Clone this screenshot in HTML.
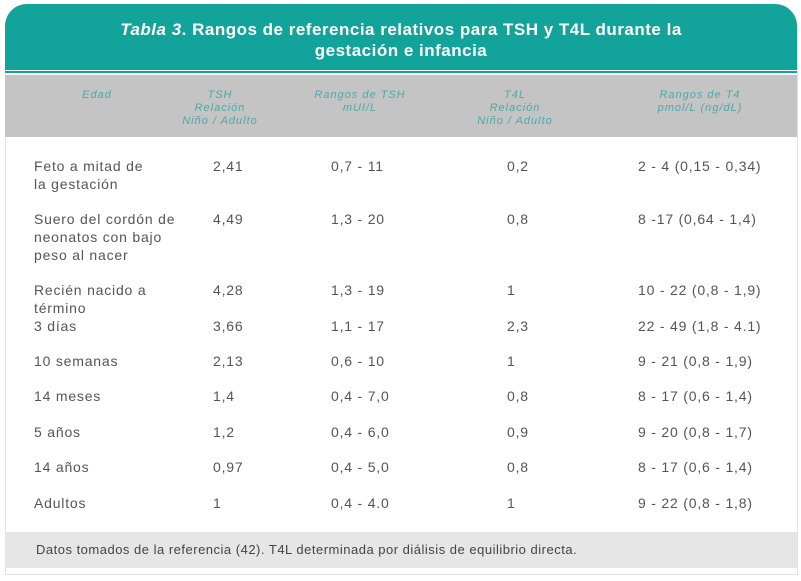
<!DOCTYPE html>
<html><head><meta charset="utf-8"><style>
body{margin:0;width:801px;height:581px;background:#fff;position:relative;overflow:hidden;font-family:"Liberation Sans",sans-serif}
.card{position:absolute;left:5px;top:4px;width:791px;height:570px;border:1px solid #e2e2e2;border-top:none;border-radius:22px 22px 0 0;background:#fff}
.top{position:absolute;left:5px;top:4px;width:792px;height:66px;background:#12a39b;border-radius:22px 22px 0 0;color:#fff;font-weight:bold;font-size:17px;letter-spacing:0.5px;text-align:center;line-height:21px;padding-top:15px;box-sizing:border-box}
.line{position:absolute;left:5px;top:71px;width:792px;height:2px;background:#12a39b}
.hd{position:absolute;left:5px;top:75px;width:792px;height:62px;background:#c4c4c4}
.h{position:absolute;font-style:italic;font-size:11px;letter-spacing:1px;color:#4aa9a9;text-align:center;line-height:13px}
.t{position:absolute;font-size:14px;letter-spacing:0.8px;color:#555;line-height:18px;white-space:nowrap}
.ft{position:absolute;left:5px;top:532px;width:792px;height:36px;background:#e6e6e6;font-size:13px;letter-spacing:0.5px;color:#444;line-height:36px;padding-left:31px;box-sizing:border-box;white-space:nowrap}
</style></head><body>
<div class="card"></div>
<div class="top"><i>Tabla 3</i>. Rangos de referencia relativos para TSH y T4L durante la<br>gestación e infancia</div>
<div class="line"></div>
<div class="hd"></div>
<div class="h" style="left:57px;top:89px;width:80px">Edad</div>
<div class="h" style="left:170px;top:89px;width:100px">TSH<br>Relación<br>Niño / Adulto</div>
<div class="h" style="left:295px;top:89px;width:130px">Rangos de TSH<br>mUI/L</div>
<div class="h" style="left:465px;top:89px;width:100px">T4L<br>Relación<br>Niño / Adulto</div>
<div class="h" style="left:630px;top:89px;width:140px">Rangos de T4<br>pmol/L (ng/dL)</div>

<div class="t" style="left:34px;top:157px">Feto a mitad de<br>la gestación</div>
<div class="t" style="left:213px;top:157px">2,41</div><div class="t" style="left:331px;top:157px">0,7 - 11</div><div class="t" style="left:507px;top:157px">0,2</div><div class="t" style="left:638px;top:157px">2 - 4 (0,15 - 0,34)</div>

<div class="t" style="left:34px;top:210px">Suero del cordón de<br>neonatos con bajo<br>peso al nacer</div>
<div class="t" style="left:213px;top:210px">4,49</div><div class="t" style="left:331px;top:210px">1,3 - 20</div><div class="t" style="left:507px;top:210px">0,8</div><div class="t" style="left:638px;top:210px">8 -17 (0,64 - 1,4)</div>

<div class="t" style="left:34px;top:281px">Recién nacido a<br>término</div>
<div class="t" style="left:213px;top:281px">4,28</div><div class="t" style="left:331px;top:281px">1,3 - 19</div><div class="t" style="left:507px;top:281px">1</div><div class="t" style="left:638px;top:281px">10 - 22 (0,8 - 1,9)</div>

<div class="t" style="left:34px;top:317px">3 días</div>
<div class="t" style="left:213px;top:317px">3,66</div><div class="t" style="left:331px;top:317px">1,1 - 17</div><div class="t" style="left:507px;top:317px">2,3</div><div class="t" style="left:638px;top:317px">22 - 49 (1,8 - 4.1)</div>

<div class="t" style="left:34px;top:352px">10 semanas</div>
<div class="t" style="left:213px;top:352px">2,13</div><div class="t" style="left:331px;top:352px">0,6 - 10</div><div class="t" style="left:507px;top:352px">1</div><div class="t" style="left:638px;top:352px">9 - 21 (0,8 - 1,9)</div>

<div class="t" style="left:34px;top:387px">14 meses</div>
<div class="t" style="left:213px;top:387px">1,4</div><div class="t" style="left:331px;top:387px">0,4 - 7,0</div><div class="t" style="left:507px;top:387px">0,8</div><div class="t" style="left:638px;top:387px">8 - 17 (0,6 - 1,4)</div>

<div class="t" style="left:34px;top:423px">5 años</div>
<div class="t" style="left:213px;top:423px">1,2</div><div class="t" style="left:331px;top:423px">0,4 - 6,0</div><div class="t" style="left:507px;top:423px">0,9</div><div class="t" style="left:638px;top:423px">9 - 20 (0,8 - 1,7)</div>

<div class="t" style="left:34px;top:458px">14 años</div>
<div class="t" style="left:213px;top:458px">0,97</div><div class="t" style="left:331px;top:458px">0,4 - 5,0</div><div class="t" style="left:507px;top:458px">0,8</div><div class="t" style="left:638px;top:458px">8 - 17 (0,6 - 1,4)</div>

<div class="t" style="left:34px;top:494px">Adultos</div>
<div class="t" style="left:213px;top:494px">1</div><div class="t" style="left:331px;top:494px">0,4 - 4.0</div><div class="t" style="left:507px;top:494px">1</div><div class="t" style="left:638px;top:494px">9 - 22 (0,8 - 1,8)</div>

<div class="ft">Datos tomados de la referencia (42). T4L determinada por diálisis de equilibrio directa.</div>
</body></html>
